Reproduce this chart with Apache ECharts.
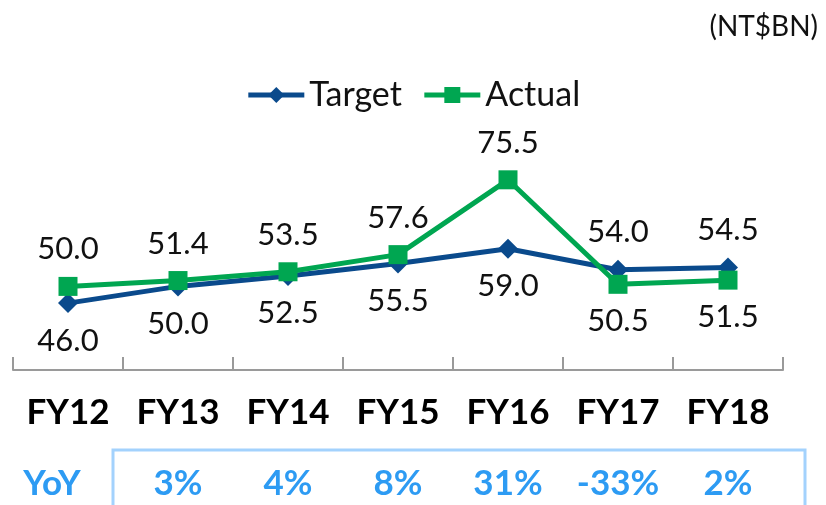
<!DOCTYPE html>
<html>
<head>
<meta charset="utf-8">
<script src="https://cdn.jsdelivr.net/npm/echarts@6/dist/echarts.min.js"></script>
<style>
  html, body { margin: 0; padding: 0; background: #fff; }
  #chart { width: 826px; height: 505px; }
</style>
</head>
<body>
<div id="chart"></div>
<script>
// data
const categories = ['FY12', 'FY13', 'FY14', 'FY15', 'FY16', 'FY17', 'FY18']
const targetValues = [46.0, 50.0, 52.5, 55.5, 59.0, 54.0, 54.5]
const actualValues = [50.0, 51.4, 53.5, 57.6, 75.5, 50.5, 51.5]
const yoyLabels = ['YoY', '3%', '4%', '8%', '31%', '-33%', '2%']
// where the label goes: 'top' or 'bottom'
const targetLabelPos = ['bottom', 'bottom', 'bottom', 'bottom', 'bottom', 'top', 'top']
const actualLabelPos = ['top', 'top', 'top', 'top', 'top', 'bottom', 'bottom']

const FONT = 'Lato, "Open Sans", sans-serif'
const chart = echarts.init(document.getElementById('chart'))

function withLabels(values, positions) {
  return values.map((v, i) => ({
    value: v,
    label: { position: positions[i] }
  }))
}

const option = {
  animation: false,
  textStyle: { fontFamily: FONT },
  legend: {
    top: 73,
    left: 'center',
    itemWidth: 56,
    itemHeight: 20,
    itemGap: 20,
    lineStyle: { width: 5 },
    textStyle: { fontSize: 34, color: '#111', fontFamily: FONT },
    data: ['Target', 'Actual']
  },
  graphic: [
    {
      type: 'text',
      right: 8,
      top: 13,
      style: { text: '(NT$BN)', fontSize: 28, fill: '#111', fontFamily: FONT }
    },
    {
      type: 'rect',
      shape: { x: 113, y: 450, width: 692, height: 80 },
      style: { fill: 'none', stroke: '#a3d2fd', lineWidth: 3 }
    }
  ],
  grid: { left: 13, right: 43, top: 161, bottom: 135 },
  xAxis: [
    {
      type: 'category',
      data: categories,
      boundaryGap: true,
      axisLine: { show: true, lineStyle: { color: '#9a9a9a', width: 2 } },
      axisTick: { show: true, inside: true, length: 13, alignWithLabel: false, interval: 0, lineStyle: { color: '#9a9a9a', width: 2 } },
      axisLabel: {
        margin: 25,
        fontSize: 35,
        fontWeight: 'bold',
        color: '#000',
        fontFamily: FONT
      }
    },
    {
      type: 'category',
      data: yoyLabels,
      position: 'bottom',
      offset: 96,
      axisLine: { show: false },
      axisTick: { show: false },
      axisLabel: {
        margin: 0,
        formatter: (val, idx) => idx === 0 ? '{head|' + val + '}' : '{pct|' + val + '}',
        rich: {
          head: { fontSize: 35, fontWeight: 'bold', color: '#2d9bf3', fontFamily: FONT, padding: [0, 32, 0, 0] },
          pct: { fontSize: 35, fontWeight: 'bold', color: '#2d9bf3', fontFamily: FONT }
        }
      }
    }
  ],
  yAxis: {
    type: 'value',
    min: 30,
    max: 80,
    show: false
  },
  series: [
    {
      name: 'Target',
      type: 'line',
      data: withLabels(targetValues, targetLabelPos),
      symbol: 'diamond',
      symbolSize: 20,
      lineStyle: { color: '#0a4a8c', width: 5 },
      itemStyle: { color: '#0a4a8c' },
      label: {
        show: true,
        distance: 12,
        fontSize: 31,
        color: '#111',
        fontFamily: FONT,
        formatter: (p) => p.value.toFixed(1)
      },
      z: 2
    },
    {
      name: 'Actual',
      type: 'line',
      data: withLabels(actualValues, actualLabelPos),
      symbol: 'rect',
      symbolSize: 19,
      lineStyle: { color: '#00a651', width: 5 },
      itemStyle: { color: '#00a651' },
      label: {
        show: true,
        distance: 12,
        fontSize: 31,
        color: '#111',
        fontFamily: FONT,
        formatter: (p) => p.value.toFixed(1)
      },
      z: 3
    }
  ]
}

chart.setOption(option)
</script>
</body>
</html>
